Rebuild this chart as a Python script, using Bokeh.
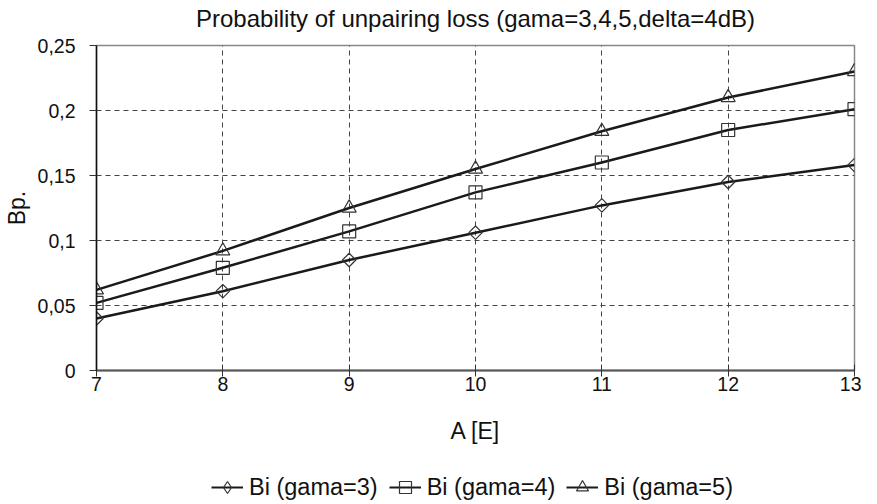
import math
from bokeh.plotting import figure
from bokeh.layouts import column
from bokeh.models import FixedTicker, CustomJSTickFormatter, Legend, LegendItem, Label
from bokeh.embed import file_html
from bokeh.resources import INLINE

x_vals = [7, 8, 9, 10, 11, 12, 13]
gama3 = [0.040, 0.061, 0.085, 0.106, 0.127, 0.145, 0.158]
gama4 = [0.052, 0.079, 0.107, 0.137, 0.160, 0.185, 0.201]
gama5 = [0.062, 0.092, 0.125, 0.155, 0.184, 0.210, 0.230]
y_ticks = [0, 0.05, 0.1, 0.15, 0.2, 0.25]
series_names = ["Bi (gama=3)", "Bi (gama=4)", "Bi (gama=5)"]
title_text = "Probability of unpairing loss (gama=3,4,5,delta=4dB)"

FONT = "Liberation Sans"
TXT = "#111111"
W = 861
FL, FR = 88, 7  # frame borders shared by all stacked figures


def strip(h):
    f = figure(width=W, height=h, output_backend="svg", toolbar_location=None,
               x_range=(FL, W - FR), y_range=(0, h),
               x_axis_location=None, y_axis_location=None,
               min_border=0, min_border_left=FL, min_border_right=FR,
               min_border_top=0, min_border_bottom=0)
    f.grid.visible = False
    f.outline_line_color = None
    return f


# title strip
tfig = strip(34)
tfig.add_layout(Label(x=471, y=16, text=title_text, text_align="center",
                      text_baseline="middle", text_font=FONT,
                      text_font_size="24px", text_color=TXT))

# main chart
p = figure(width=W, height=428, output_backend="svg", toolbar_location=None,
           x_range=(7, 13), y_range=(0, 0.25),
           min_border_left=FL, min_border_right=FR, min_border_top=11,
           min_border_bottom=92)

p.outline_line_color = "#888888"
p.outline_line_width = 1.5

for g in (p.xgrid, p.ygrid):
    g.grid_line_color = "#444444"
    g.grid_line_dash = "5 4"
    g.grid_line_width = 1
p.xgrid.ticker = FixedTicker(ticks=x_vals[1:-1])
p.ygrid.ticker = FixedTicker(ticks=y_ticks[1:-1])

p.xaxis.ticker = FixedTicker(ticks=x_vals)
p.yaxis.ticker = FixedTicker(ticks=y_ticks)
p.yaxis.formatter = CustomJSTickFormatter(code="return (Math.round(tick*100)/100).toString().replace('.', ',');")
p.xaxis.axis_label = "A [E]"
p.yaxis.axis_label = "Bp."
for ax in (p.xaxis[0], p.yaxis[0]):
    ax.axis_label_text_font = FONT
    ax.axis_label_text_font_size = "23px"
    ax.axis_label_text_font_style = "normal"
    ax.axis_label_text_color = TXT
    ax.major_label_text_font = FONT
    ax.major_label_text_font_size = "19.5px"
    ax.major_label_text_color = TXT
    ax.minor_tick_line_color = None
    ax.major_tick_line_width = 1
p.xaxis.axis_line_color = "#555555"
p.xaxis.axis_line_width = 2
p.xaxis.major_tick_line_color = "#333333"
p.xaxis.major_tick_in = 6
p.xaxis.major_tick_out = 6
p.xaxis.major_label_standoff = 0
p.xaxis.axis_label_standoff = 24
p.yaxis.axis_line_color = "#111111"
p.yaxis.axis_line_width = 1.5
p.yaxis.major_tick_line_color = "#333333"
p.yaxis.major_tick_in = 0
p.yaxis.major_tick_out = 7
p.yaxis.major_label_standoff = 14
p.yaxis.axis_label_standoff = 5

markers = ["square", "square", "triangle"]
legend_markers = ["diamond", "square", "triangle"]
sizes = [9.5, 13, 14]
angles = [math.pi / 4, 0, 0]
LINE_C = "#1a1a1a"
MARK_C = "#333333"
series = [gama3, gama4, gama5]
for ys, m, s, a in zip(series, markers, sizes, angles):
    p.line(x_vals, ys, line_color=LINE_C, line_width=2.5)
    p.scatter(x_vals, ys, marker=m, size=s, angle=a, fill_color=None,
              line_color=MARK_C, line_width=1.2)

# legend strip (series drawn off-range, only their legend glyphs show)
lg = strip(42)
lg.x_range.start, lg.x_range.end = 0, 1
lg.y_range.start, lg.y_range.end = 0, 1
items = []
for ys, m, name in zip(series, legend_markers, series_names):
    r1 = lg.line(x_vals, ys, line_color=LINE_C, line_width=2)
    r2 = lg.scatter(x_vals, ys, marker=m, size=12, fill_color=None,
                    line_color=MARK_C, line_width=1.2)
    items.append(LegendItem(label=name, renderers=[r1, r2]))

legend = Legend(items=items, orientation="horizontal", location=(115, 2))
legend.label_text_font = FONT
legend.label_text_font_size = "23.5px"
legend.label_text_color = TXT
legend.border_line_color = None
legend.background_fill_alpha = 0
legend.glyph_width = 32
legend.glyph_height = 30
legend.label_standoff = 6
legend.spacing = 11
legend.padding = 0
legend.margin = 0
lg.add_layout(legend, "center")

layout = column(tfig, p, lg, spacing=0)
open("out.html", "w").write(file_html(layout, INLINE))
